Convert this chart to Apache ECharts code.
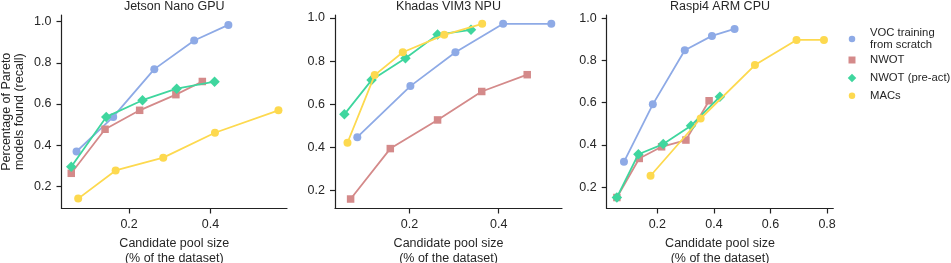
<!DOCTYPE html>
<html>
<head>
<meta charset="utf-8">
<script src="https://cdn.jsdelivr.net/npm/echarts@6/dist/echarts.min.js"></script>
<style>html,body{margin:0;padding:0;background:#fff}#c{width:951px;height:263px}</style>
</head>
<body>
<div id="c"></div>
<script>
// ---- data ----
const panelTitles = ['Jetson Nano GPU', 'Khadas VIM3 NPU', 'Raspi4 ARM CPU'];
const seriesNames = ['VOC training\nfrom scratch', 'NWOT', 'NWOT (pre-act)', 'MACs'];

// Jetson Nano GPU
const jetsonVocX  = [0.071, 0.161, 0.262, 0.360, 0.444];
const jetsonVocY  = [0.369, 0.537, 0.769, 0.908, 0.984];
const jetsonNwotX = [0.058, 0.141, 0.226, 0.315, 0.380];
const jetsonNwotY = [0.263, 0.477, 0.569, 0.645, 0.709];
const jetsonPreX  = [0.058, 0.144, 0.233, 0.317, 0.410];
const jetsonPreY  = [0.295, 0.537, 0.618, 0.674, 0.708];
const jetsonMacsX = [0.075, 0.167, 0.284, 0.411, 0.567];
const jetsonMacsY = [0.140, 0.277, 0.339, 0.460, 0.569];

// Khadas VIM3 NPU
const khadasVocX  = [0.083, 0.202, 0.303, 0.410, 0.518];
const khadasVocY  = [0.447, 0.684, 0.841, 0.973, 0.973];
const khadasNwotX = [0.068, 0.157, 0.263, 0.362, 0.464];
const khadasNwotY = [0.160, 0.394, 0.527, 0.659, 0.737];
const khadasPreX  = [0.054, 0.115, 0.191, 0.263, 0.338];
const khadasPreY  = [0.553, 0.712, 0.813, 0.923, 0.945];
const khadasMacsX = [0.061, 0.122, 0.185, 0.278, 0.363];
const khadasMacsY = [0.421, 0.735, 0.841, 0.922, 0.973];

// Raspi4 ARM CPU
const raspiVocX  = [0.082, 0.184, 0.297, 0.393, 0.473];
const raspiVocY  = [0.320, 0.592, 0.848, 0.916, 0.949];
const raspiNwotX = [0.057, 0.136, 0.215, 0.301, 0.383];
const raspiNwotY = [0.151, 0.336, 0.391, 0.423, 0.609];
const raspiPreX  = [0.057, 0.133, 0.221, 0.319, 0.421];
const raspiPreY  = [0.151, 0.356, 0.404, 0.491, 0.628];
const raspiMacsX = [0.176, 0.353, 0.545, 0.692, 0.789];
const raspiMacsY = [0.254, 0.525, 0.778, 0.897, 0.897];

// tick labels
const yTicks = [0.2, 0.4, 0.6, 0.8, 1.0];
const xTicksJetson = [0.2, 0.4];
const xTicksKhadas = [0.2, 0.4];
const xTicksRaspi  = [0.2, 0.4, 0.6, 0.8];

// ---- chart ----
const colors = ['#8eaae6', '#d48a8a', '#3fd69e', '#fdd94f'];
const symbols = ['circle', 'rect', 'diamond', 'circle'];
const symbolSizes = [8, 7.5, 10.5, 8];
const legendSizes = [6.5, 7, 8.5, 6.5];
const FONT = 'Liberation Sans, Arial, sans-serif';
const TXT = '#262626';
const FS = 12.5;
const LFS = 11.3;

const panels = [
  {title: panelTitles[0], xs: [jetsonVocX, jetsonNwotX, jetsonPreX, jetsonMacsX], ys: [jetsonVocY, jetsonNwotY, jetsonPreY, jetsonMacsY], xTicks: xTicksJetson,
   grid: {left: 61.5, top: 15, width: 225.5, height: 193.5}, xr: [0.034, 0.588], yr: [0.092, 1.032]},
  {title: panelTitles[1], xs: [khadasVocX, khadasNwotX, khadasPreX, khadasMacsX], ys: [khadasVocY, khadasNwotY, khadasPreY, khadasMacsY], xTicks: xTicksKhadas,
   grid: {left: 335, top: 15, width: 227, height: 193.5}, xr: [0.033, 0.542], yr: [0.116, 1.014]},
  {title: panelTitles[2], xs: [raspiVocX, raspiNwotX, raspiPreX, raspiMacsX], ys: [raspiVocY, raspiNwotY, raspiPreY, raspiMacsY], xTicks: xTicksRaspi,
   grid: {left: 606.7, top: 15, width: 226.6, height: 193.5}, xr: [0.021, 0.822], yr: [0.099, 1.015]}
];

const fmt = v => Number(v).toFixed(1);
const axisLine = {show: true, lineStyle: {color: '#222', width: 1.2}};
const grids = [], xAxes = [], yAxes = [], series = [], graphics = [];
panels.forEach((p, i) => {
  grids.push(Object.assign({containLabel: false, outerBoundsMode: 'none'}, p.grid));
  xAxes.push({
    type: 'value', gridIndex: i, min: p.xr[0], max: p.xr[1],
    splitLine: {show: false}, axisLine: axisLine,
    axisTick: {show: true, length: 5, inside: false, customValues: p.xTicks, lineStyle: {color: '#222', width: 1.2}},
    axisLabel: {customValues: p.xTicks, formatter: fmt, fontSize: FS, color: TXT, fontFamily: FONT, margin: 10},
    name: 'Candidate pool size\n(% of the dataset)', nameLocation: 'middle', nameGap: 28, nameMoveOverlap: false,
    nameTextStyle: {fontSize: FS, color: TXT, fontFamily: FONT, lineHeight: 15}
  });
  const y = {
    type: 'value', gridIndex: i, min: p.yr[0], max: p.yr[1],
    splitLine: {show: false}, axisLine: axisLine,
    axisTick: {show: true, length: 5, inside: false, customValues: yTicks, lineStyle: {color: '#222', width: 1.2}},
    axisLabel: {customValues: yTicks, formatter: fmt, fontSize: FS, color: TXT, fontFamily: FONT, margin: 10}
  };
  if (i === 0) {
    y.name = 'Percentage of Pareto\nmodels found (recall)';
    y.nameLocation = 'middle';
    y.nameGap = 35;
    y.nameMoveOverlap = false;
    y.nameTextStyle = {fontSize: FS, color: TXT, fontFamily: FONT, lineHeight: 13.5};
  }
  yAxes.push(y);
  for (let s = 0; s < 4; s++) {
    series.push({
      name: seriesNames[s], type: 'line', xAxisIndex: i, yAxisIndex: i,
      data: p.xs[s].map((x, k) => [x, p.ys[s][k]]),
      symbol: symbols[s], symbolSize: symbolSizes[s], showAllSymbol: true,
      itemStyle: {color: colors[s]}, lineStyle: {color: colors[s], width: 1.8},
      emphasis: {disabled: true}, animation: false, z: 2 + s
    });
  }
  graphics.push({type: 'text', x: p.grid.left + p.grid.width / 2, y: 6.5,
    style: {text: p.title, align: 'center', verticalAlign: 'middle', fontSize: FS, fill: TXT, fontFamily: FONT}});
});

const legendCenters = [39, 60, 78, 95.7];
const legends = seriesNames.map((n, s) => {
  const w = legendSizes[s];
  const lines = n.split('\n').length;
  const lh = 12.7;
  return {
    data: [{name: n, icon: symbols[s]}],
    orient: 'vertical', left: 852 - w / 2, top: legendCenters[s] - lines * lh / 2,
    padding: 0,
    itemWidth: w, itemHeight: w,
    textStyle: {fontSize: LFS, color: TXT, fontFamily: FONT, lineHeight: lh, padding: [0, 0, 0, 870 - (852 + w / 2) - 5]},
    selectedMode: false
  };
});

const chart = echarts.init(document.getElementById('c'), null, {renderer: 'canvas'});
chart.setOption({
  animation: false,
  backgroundColor: '#fff',
  grid: grids, xAxis: xAxes, yAxis: yAxes, series: series,
  legend: legends, graphic: graphics
});
</script>
</body>
</html>
